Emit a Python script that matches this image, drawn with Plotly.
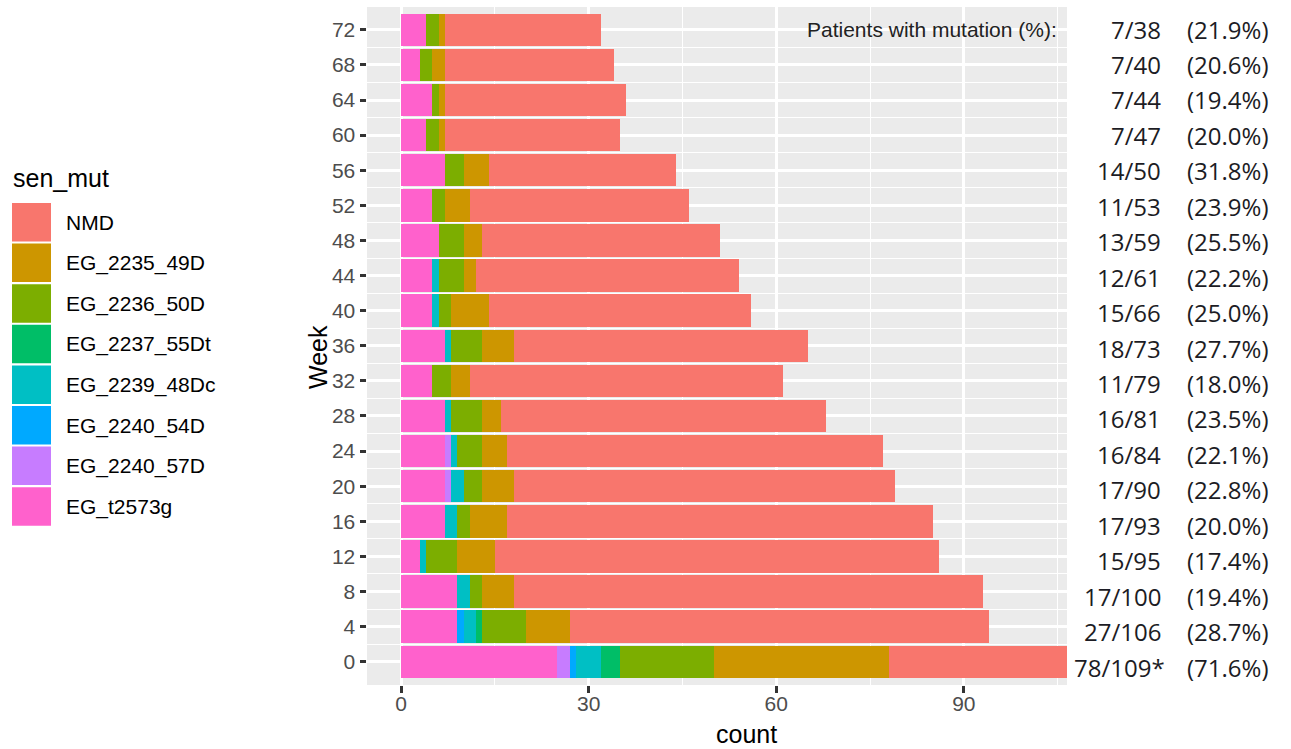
import plotly.graph_objects as go

# ---------------- data ----------------
weeks = [0, 4, 8, 12, 16, 20, 24, 28, 32, 36, 40, 44, 48, 52, 56, 60, 64, 68, 72]

NMD          = [31, 67, 75, 71, 68, 61, 60, 52, 50, 47, 42, 42, 38, 35, 30, 28, 29, 27, 25]
EG_2235_49D  = [28, 7, 5, 6, 6, 5, 4, 3, 3, 5, 6, 2, 3, 4, 4, 1, 1, 2, 1]
EG_2236_50D  = [15, 7, 2, 5, 2, 3, 4, 5, 3, 5, 2, 4, 4, 2, 3, 2, 1, 2, 2]
EG_2237_55Dt = [3, 1, 0, 0, 0, 0, 0, 0, 0, 0, 0, 0, 0, 0, 0, 0, 0, 0, 0]
EG_2239_48Dc = [4, 2, 2, 1, 2, 2, 1, 1, 0, 1, 1, 1, 0, 0, 0, 0, 0, 0, 0]
EG_2240_54D  = [1, 1, 0, 0, 0, 0, 0, 0, 0, 0, 0, 0, 0, 0, 0, 0, 0, 0, 0]
EG_2240_57D  = [2, 0, 0, 0, 0, 1, 1, 0, 0, 0, 0, 0, 0, 0, 0, 0, 0, 0, 0]
EG_t2573g    = [25, 9, 9, 3, 7, 7, 7, 7, 5, 7, 5, 5, 6, 5, 7, 4, 5, 3, 4]

mut_labels = ["78/109*", "27/106", "17/100", "15/95", "17/93", "17/90", "16/84", "16/81",
              "11/79", "18/73", "15/66", "12/61", "13/59", "11/53", "14/50", "7/47",
              "7/44", "7/40", "7/38"]
pct_labels = ["(71.6%)", "(28.7%)", "(19.4%)", "(17.4%)", "(20.0%)", "(22.8%)", "(22.1%)",
              "(23.5%)", "(18.0%)", "(27.7%)", "(25.0%)", "(22.2%)", "(25.5%)", "(23.9%)",
              "(31.8%)", "(20.0%)", "(19.4%)", "(20.6%)", "(21.9%)"]

legend_names = ["NMD", "EG_2235_49D", "EG_2236_50D", "EG_2237_55Dt",
                "EG_2239_48Dc", "EG_2240_54D", "EG_2240_57D", "EG_t2573g"]
colors = ["#F8766D", "#CD9600", "#7CAE00", "#00BE67",
          "#00BFC4", "#00A9FF", "#C77CFF", "#FF61CC"]
series = [NMD, EG_2235_49D, EG_2236_50D, EG_2237_55Dt,
          EG_2239_48Dc, EG_2240_54D, EG_2240_57D, EG_t2573g]

# ---------------- layout geometry (pixels) ----------------
W, H = 1291, 749
L, R, T, B = 367, 1067, 7, 685
FONT = "Liberation Sans, Arial, sans-serif"


def px_x(px):
    return (px - L) / (R - L)


def px_y(py):
    return (B - py) / (B - T)


fig = go.Figure()

# stacked from left: last level first
for name, vals, col in reversed(list(zip(legend_names, series, colors))):
    fig.add_trace(go.Bar(
        y=weeks, x=vals, name=name, orientation="h",
        marker=dict(color=col, line=dict(width=0)),
        width=3.7, showlegend=False,
    ))

annotations = []
shapes = []

# right-hand labels
for i, (w, m, p) in enumerate(zip(weeks, mut_labels, pct_labels)):
    row = (72 - w) / 4
    ypx = 29 + row * 35.45
    xr = 1167 if m.endswith("*") else 1163
    annotations.append(dict(x=px_x(xr), y=px_y(ypx), xref="paper", yref="paper",
                            text=m, showarrow=False, xanchor="right", yanchor="middle",
                            font=dict(family="Open Sans, sans-serif", size=24, color="#1c1c24")))
    annotations.append(dict(x=px_x(1185), y=px_y(ypx), xref="paper", yref="paper",
                            text=p, showarrow=False, xanchor="left", yanchor="middle",
                            font=dict(family="Open Sans, sans-serif", size=24, color="#1c1c24")))

annotations.append(dict(x=px_x(1059), y=px_y(30), xref="paper", yref="paper",
                        text="Patients with mutation (%):", showarrow=False,
                        xanchor="right", yanchor="middle",
                        font=dict(family=FONT, size=21, color="#222222")))

# axis titles
annotations.append(dict(x=px_x(746), y=px_y(734), xref="paper", yref="paper",
                        text="count", showarrow=False, xanchor="center", yanchor="middle",
                        font=dict(family=FONT, size=25, color="black")))
annotations.append(dict(x=px_x(318), y=px_y(357), xref="paper", yref="paper",
                        text="Week", showarrow=False, xanchor="center", yanchor="middle",
                        textangle=-90, font=dict(family=FONT, size=25, color="black")))

# manual legend
annotations.append(dict(x=px_x(11), y=px_y(178), xref="paper", yref="paper",
                        text="sen_mut", showarrow=False, xanchor="left", yanchor="middle",
                        font=dict(family=FONT, size=25, color="black")))
for k, (name, col) in enumerate(zip(legend_names, colors)):
    top = 203 + k * 40.6
    shapes.append(dict(type="rect", xref="paper", yref="paper",
                       x0=px_x(12), x1=px_x(51), y0=px_y(top), y1=px_y(top + 38.5),
                       fillcolor=col, line=dict(width=0), layer="above"))
    annotations.append(dict(x=px_x(64), y=px_y(top + 19.5), xref="paper", yref="paper",
                            text=name, showarrow=False, xanchor="left", yanchor="middle",
                            font=dict(family=FONT, size=21, color="black")))

fig.update_layout(
    width=W, height=H,
    margin=dict(l=L, r=W - R, t=T, b=H - B, pad=0),
    paper_bgcolor="white", plot_bgcolor="#EBEBEB",
    barmode="stack", bargap=0,
    font=dict(family=FONT),
    annotations=annotations, shapes=shapes,
    showlegend=False,
)
fig.update_xaxes(
    range=[-5.45, 106.5], tickvals=[0, 30, 60, 90], ticktext=["0", "30", "60", "90"],
    ticks="outside", ticklen=6.5, tickwidth=2.5, tickcolor="#333333",
    tickfont=dict(family=FONT, size=21, color="#4D4D4D"),
    ticklabelstandoff=-7,
    showgrid=True, gridcolor="white", gridwidth=2.6,
    minor=dict(tickvals=[15, 45, 75, 105], showgrid=True, gridcolor="white", gridwidth=1.3),
    zeroline=False, showline=False, fixedrange=True,
)
fig.update_yaxes(
    range=[-2.65, 74.6], tickvals=weeks, ticktext=[str(w) for w in weeks],
    ticks="outside", ticklen=6.5, tickwidth=2.5, tickcolor="#333333",
    tickfont=dict(family=FONT, size=21, color="#4D4D4D"),
    showgrid=True, gridcolor="white", gridwidth=2.6,
    minor=dict(tickvals=[w + 2 for w in weeks[:-1]], showgrid=True, gridcolor="white", gridwidth=1.3),
    zeroline=False, showline=False, fixedrange=True,
)

fig.write_html("out.html",
               config={"displayModeBar": False},
               post_script="document.body.style.margin='0px';document.body.style.overflow='hidden';")
